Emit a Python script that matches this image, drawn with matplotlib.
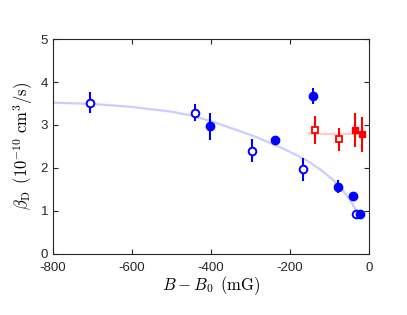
import matplotlib.pyplot as plt

plt.rcParams['mathtext.fontset'] = 'cm'
plt.rcParams['font.family'] = ['Liberation Sans', 'DejaVu Sans']

# blue open circles
open_x = [-705, -440, -297, -167, -33]
open_y = [3.52, 3.29, 2.40, 1.97, 0.93]
open_err = [0.25, 0.19, 0.27, 0.27, 0.0]

# blue filled circles
fill_x = [-402, -239, -142, -80, -40, -22]
fill_y = [2.97, 2.66, 3.67, 1.56, 1.35, 0.94]
fill_err = [0.32, 0.09, 0.18, 0.15, 0.0, 0.0]

# red open squares
ropen_x = [-138, -76]
ropen_y = [2.88, 2.67]
ropen_err = [0.33, 0.27]

# red filled squares
rfill_x = [-36, -18]
rfill_y = [2.88, 2.78]
rfill_err = [0.40, 0.40]

# fit curve
fit_x = [-800, -700, -600, -500, -450, -400, -350, -300, -260, -220, -175,
         -150, -120, -90, -70, -48, -30]
fit_y = [3.52, 3.49, 3.42, 3.31, 3.22, 3.09, 2.93, 2.77, 2.62, 2.46, 2.26,
         2.13, 1.94, 1.71, 1.52, 1.25, 0.97]

# red mean line
rline_x = [-151, -23]
rline_y = [2.79, 2.79]


def main():
    fig = plt.figure(figsize=(4.07, 3.15), dpi=100)
    ax = fig.add_axes([0.130, 0.194, 0.777, 0.682])

    ax.plot(fit_x, fit_y, color=(0.8, 0.8, 1.0), lw=1.6, zorder=1)
    ax.plot(rline_x, rline_y, color=(1.0, 0.8, 0.8), lw=1.6, zorder=1)

    ax.errorbar(open_x, open_y, yerr=open_err, fmt='o', color='blue', mfc='white',
                mec='blue', mew=1.4, ms=5.5, elinewidth=1.5, capsize=0, zorder=3)
    ax.errorbar(fill_x, fill_y, yerr=fill_err, fmt='o', color='blue', mfc='blue',
                mec='blue', ms=6, elinewidth=1.5, capsize=0, zorder=3)
    ax.errorbar(ropen_x, ropen_y, yerr=ropen_err, fmt='s', color='red', mfc='white',
                mec='red', mew=1.3, ms=4.5, elinewidth=1.5, capsize=0, zorder=3)
    ax.errorbar(rfill_x, rfill_y, yerr=rfill_err, fmt='s', color='red', mfc='red',
                mec='red', ms=5, elinewidth=1.5, capsize=0, zorder=3)

    ax.set_xlim(-800, 0)
    ax.set_ylim(0, 5)
    ax.set_xticks([-800, -600, -400, -200, 0])
    ax.set_yticks([0, 1, 2, 3, 4, 5])
    ax.set_xticklabels(['-800', '-600', '-400', '-200', '0'])
    ax.tick_params(direction='in', top=True, right=True, labelsize=9.5,
                   colors=(0.15, 0.15, 0.15), length=3.5, width=0.8)
    ax.tick_params(axis='x', pad=6)
    for s in ax.spines.values():
        s.set_color((0.15, 0.15, 0.15))
        s.set_linewidth(0.8)

    ax.set_xlabel(r'$B-B_0\ \,(\mathrm{mG})$', fontsize=12, labelpad=0)
    ax.set_ylabel(r'$\beta_\mathrm{D}\ \,(10^{-10}\ \mathrm{cm}^3/\mathrm{s})$', fontsize=12, labelpad=4)

    fig.savefig('out.png', dpi=100)


if __name__ == "__main__":
    main()
